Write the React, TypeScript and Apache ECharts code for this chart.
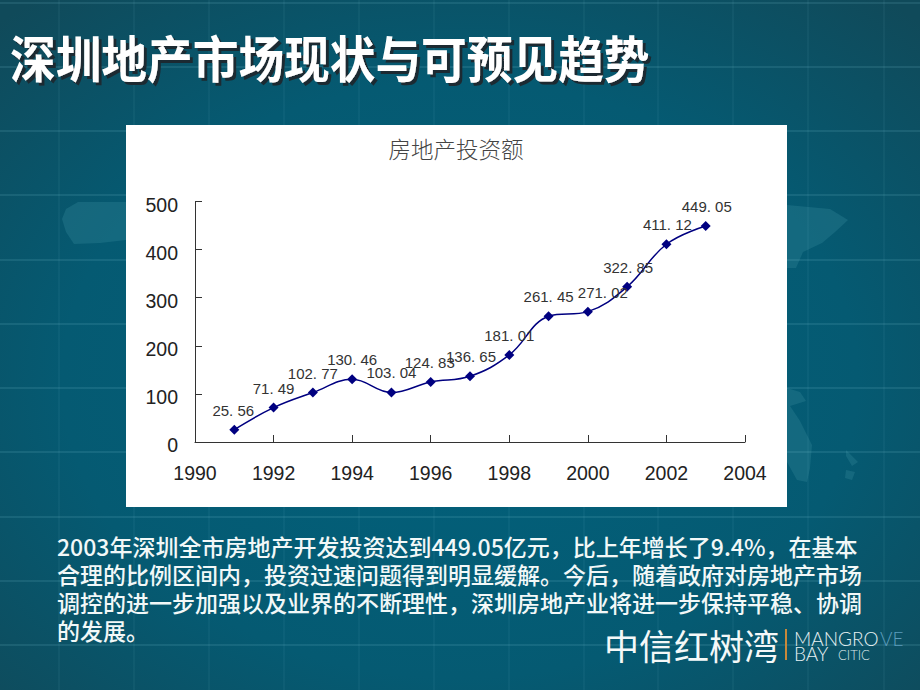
import React, { useEffect, useRef } from "react";
import * as echarts from "echarts";

const slideTitle = "深圳地产市场现状与可预见趋势";
const chartTitle = "房地产投资额";
const years = [1991, 1992, 1993, 1994, 1995, 1996, 1997, 1998, 1999, 2000, 2001, 2002, 2003];
const investment = [25.56, 71.49, 102.77, 130.46, 103.04, 124.83, 136.65, 181.01, 261.45, 271.02, 322.85, 411.12, 449.05];
const labelShiftX = [-1, 0, 0, 0, 0, -1, 1, 0, 0, 15, 1, 1, 1];
const bodyLines = [
  "2003年深圳全市房地产开发投资达到449.05亿元，比上年增长了9.4%，在基本",
  "合理的比例区间内，投资过速问题得到明显缓解。今后，随着政府对房地产市场",
  "调控的进一步加强以及业界的不断理性，深圳房地产业将进一步保持平稳、协调",
  "的发展。",
];
const hLines = [3, 67, 131, 195, 260, 324, 388, 452, 517, 581, 645];
const vLines = [59, 134, 209, 284, 359, 434, 509, 584, 658, 733, 808, 884];
const mapShapes = [
  [[126, 202], [78, 202], [66, 209], [62, 219], [66, 232], [74, 244], [100, 243], [126, 240]],
  [[787, 205], [830, 209], [848, 220], [835, 232], [822, 243], [803, 252], [796, 268], [787, 268]],
  [[787, 388], [800, 392], [806, 401], [790, 406], [800, 421], [812, 445], [810, 468], [807, 482], [797, 480], [787, 462]],
  [[846, 450], [858, 462], [852, 466], [846, 456]],
  [[846, 470], [855, 472], [852, 480], [845, 478]],
];

export default function App() {
  const ref = useRef<HTMLDivElement>(null);
  useEffect(() => {
    document.body.style.margin = "0";
    const chart = echarts.init(ref.current!, null, { renderer: "svg" });
    const cjk = "'Noto Sans CJK SC'";
    const graphics: any[] = [
      {
        type: "rect",
        shape: { x: 0, y: 0, width: 920, height: 690 },
        style: {
          fill: new echarts.graphic.RadialGradient(0.5, 0.55, 0.72, [
            { offset: 0, color: "#01617c" },
            { offset: 0.6, color: "#055a72" },
            { offset: 1, color: "#104a5a" },
          ]),
        },
      },
      ...mapShapes.map((points) => ({
        type: "polygon",
        shape: { points },
        style: { fill: "#2a7f92", opacity: 0.42 },
      })),
      ...hLines.map((y) => ({
        type: "line",
        shape: { x1: 0, y1: y, x2: 920, y2: y },
        style: { stroke: "rgba(130,200,215,0.28)", lineWidth: 1 },
      })),
      ...vLines.map((x) => ({
        type: "line",
        shape: { x1: x, y1: 0, x2: x, y2: 690 },
        style: { stroke: "rgba(130,200,215,0.12)", lineWidth: 1 },
      })),
      {
        type: "rect",
        shape: { x: 126, y: 125, width: 661, height: 382 },
        style: { fill: "#ffffff" },
      },
      {
        type: "text",
        x: 10,
        y: 56,
        scaleY: 1.1,
        style: {
          text: slideTitle,
          fill: "#ffffff",
          font: `700 45.7px ${cjk}`,
          textVerticalAlign: "middle",
          textShadowColor: "#1c2a30",
          textShadowBlur: 1,
          textShadowOffsetX: 3,
          textShadowOffsetY: 3,
        },
      },
      ...bodyLines.map((text, i) => ({
        type: "text",
        x: 57,
        y: 546 + i * 28,
        style: {
          text,
          fill: "#f2f8f8",
          font: `500 23px ${cjk}`,
          lineHeight: 26,
          textVerticalAlign: "middle",
        },
      })),
      {
        type: "text",
        x: 604,
        y: 644,
        style: { text: "中信红树湾", fill: "#f4f8f8", font: `400 35px ${cjk}`, lineHeight: 36, textVerticalAlign: "middle" },
      },
      {
        type: "rect",
        shape: { x: 785, y: 629, width: 2, height: 31 },
        style: { fill: "#c8893a" },
      },
      {
        type: "text",
        x: 794,
        y: 638,
        style: {
          text: "MANGRO",
          fill: "#e6f0f2",
          font: "300 19px Lato",
          lineHeight: 14,
          textVerticalAlign: "middle",
        },
      },
      {
        type: "text",
        x: 880,
        y: 638,
        style: { text: "VE", fill: "#5b9cbc", font: "300 19px Lato", lineHeight: 14, textVerticalAlign: "middle" },
      },
      {
        type: "text",
        x: 794,
        y: 653,
        style: { text: "BAY", fill: "#e6f0f2", font: "300 19px Lato", lineHeight: 14, textVerticalAlign: "middle" },
      },
      {
        type: "text",
        x: 838,
        y: 655,
        style: { text: "CITIC", fill: "#dbe8ea", font: "300 13px Lato", lineHeight: 11, textVerticalAlign: "middle" },
      },
    ];
    chart.setOption({
      animation: false,
      title: {
        text: chartTitle,
        left: 451,
        top: 132,
        textAlign: "center",
        textStyle: { fontFamily: cjk, fontSize: 22.5, fontWeight: 300, color: "#444444" },
      },
      graphic: { elements: graphics },
      grid: { left: 195, right: 175, top: 201.5, bottom: 248 },
      xAxis: {
        type: "value",
        min: 1990,
        max: 2004,
        interval: 2,
        splitLine: { show: false },
        axisLine: { lineStyle: { color: "#333333", width: 1 } },
        axisTick: { show: true, inside: true, length: 7, lineStyle: { color: "#333333" } },
        axisLabel: {
          margin: 21,
          color: "#222222",
          fontFamily: "'Liberation Sans'",
          fontSize: 19.5,
          formatter: (v: number) => String(v),
        },
      },
      yAxis: {
        type: "value",
        min: 0,
        max: 500,
        interval: 100,
        splitLine: { show: false },
        axisLine: { show: true, lineStyle: { color: "#333333", width: 1 } },
        axisTick: { show: true, inside: true, length: 7, lineStyle: { color: "#333333" } },
        axisLabel: {
          margin: 17,
          formatter: "{a|{value}}",
          rich: {
            a: {
              color: "#222222",
              fontFamily: "'Liberation Sans'",
              fontSize: 19.5,
              padding: [6, 0, 0, 0],
            },
          },
        },
      },
      series: [
        {
          type: "line",
          smooth: 0.4,
          symbol: "diamond",
          symbolSize: 10,
          lineStyle: { color: "#000080", width: 1.5 },
          itemStyle: { color: "#000080" },
          label: {
            show: true,
            position: "top",
            distance: 7,
            color: "#333333",
            fontFamily: "'Liberation Sans'",
            fontSize: 15,
            formatter: (p: any) => p.value[1].toFixed(2).replace(".", ". "),
          },
          data: years.map((y, i) => ({
            value: [y, investment[i]],
            label: { offset: [labelShiftX[i], 0] },
          })),
        },
      ],
    });
    return () => chart.dispose();
  }, []);
  return <div ref={ref} style={{ position: "absolute", left: 0, top: 0, width: 920, height: 690 }} />;
}
